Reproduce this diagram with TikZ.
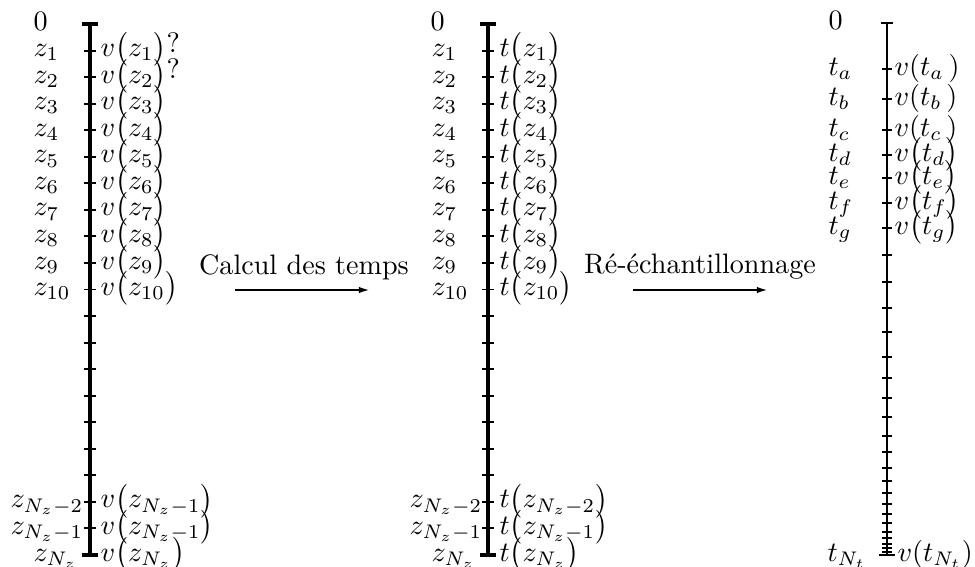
\documentclass[tikz,border=0pt]{standalone}
\usepackage{tikz}
\usetikzlibrary{arrows.meta}

\begin{document}
\begin{tikzpicture}[x=0.0125cm,y=-0.0125cm,
  axe/.style={line width=1.1pt},
  tck/.style={line width=0.7pt},
  lbl/.style={anchor=mid west,inner sep=0pt},
  flow/.style={-{Latex[length=1.4mm,width=0.8mm]},line width=0.7pt}
]
  \useasboundingbox (0,0) rectangle (975,567);
  % ---- profondeurs
  \draw[axe] (90,24) -- (90,555);
  \draw[axe] (82,24) -- (98,24);
  \draw[axe] (82,555) -- (98,555);
  \foreach \i in {1,...,19} { \draw[tck] (84,{24+26.55*\i}) -- (96,{24+26.55*\i}); }
  \node[lbl] (za0) at (33,24) {$0$};
  \foreach \i in {1,...,10} { \node[lbl] (za\i) at (33,{24+26.55*\i}) {$z_{\i}$}; }
  \node[lbl] (za18) at (10,{24+26.55*18}) {$z_{N_z-2}$};
  \node[lbl] (za19) at (10,{24+26.55*19}) {$z_{N_z-1}$};
  \node[lbl] (za20) at (33,555) {$z_{N_z}$};
  \node[lbl] (va1) at (100,{24+26.55}) {$v\bigl(z_{1}\bigr)$\raisebox{1.5pt}{?}};
  \node[lbl] (va2) at (100,{24+26.55*2}) {$v\bigl(z_{2}\bigr)$\raisebox{1.5pt}{?}};
  \foreach \i in {3,...,10} { \node[lbl] (va\i) at (100,{24+26.55*\i}) {$v\bigl(z_{\i}\bigr)$}; }
  \node[lbl] (va18) at (100,{24+26.55*18}) {$v\bigl(z_{N_z-1}\bigr)$};
  \node[lbl] (va19) at (100,{24+26.55*19}) {$v\bigl(z_{N_z-1}\bigr)$};
  \node[lbl] (va20) at (100,555) {$v\bigl(z_{N_z}\bigr)$};
  % ---- calcul des temps
  \node (calc) at (304,267) {Calcul des temps};
  \coordinate (ca) at (235,290);
  \coordinate (cb) at (370,290);
  \draw[flow] (ca) -- (cb);
  % ---- temps
  \draw[axe] (488,24) -- (488,555);
  \draw[axe] (480,24) -- (496,24);
  \draw[axe] (480,555) -- (496,555);
  \foreach \i in {1,...,19} { \draw[tck] (482,{24+26.55*\i}) -- (494,{24+26.55*\i}); }
  \node[lbl] (zb0) at (430,24) {$0$};
  \foreach \i in {1,...,10} { \node[lbl] (zb\i) at (431,{24+26.55*\i}) {$z_{\i}$}; }
  \node[lbl] (zb18) at (409,{24+26.55*18}) {$z_{N_z-2}$};
  \node[lbl] (zb19) at (409,{24+26.55*19}) {$z_{N_z-1}$};
  \node[lbl] (zb20) at (431,555) {$z_{N_z}$};
  \foreach \i in {1,...,10} { \node[lbl] (tb\i) at (499,{24+26.55*\i}) {$t\bigl(z_{\i}\bigr)$}; }
  \node[lbl] (tb18) at (499,{24+26.55*18}) {$t\bigl(z_{N_z-2}\bigr)$};
  \node[lbl] (tb19) at (499,{24+26.55*19}) {$t\bigl(z_{N_z-1}\bigr)$};
  \node[lbl] (tb20) at (499,555) {$t\bigl(z_{N_z}\bigr)$};
  % ---- re-echantillonnage
  \node (resamp) at (700,267) {Ré-échantillonnage};
  \coordinate (ra) at (633,290);
  \coordinate (rb) at (768,290);
  \draw[flow] (ra) -- (rb);
  % ---- temps reguliers
  \draw[line width=0.8pt] (887,23) -- (887,555);
  \draw[tck] (881,23) -- (893,23);
  \draw[line width=0.9pt] (879,555) -- (895,555);
  \foreach \y in {69,99,130,155,178,203,228,255,282,308,332,357,378,398,417,436,452,
                  468,481,493,504,514,523,532,538,544,548,552}
    { \draw[tck] (882,\y) -- (892,\y); }
  \node[lbl] (tc0) at (828,23) {$0$};
  \foreach \y/\s in {69/a,99/b,130/c,155/d,178/e,203/f,228/g}
    { \node[lbl] (tc\s) at (828,\y) {$t_{\s}$}; }
  \node[lbl] (tcN) at (827,555) {$t_{N_t}$};
  \foreach \y/\s in {69/a,99/b,130/c} { \node[lbl] (vc\s) at (894,\y) {$v(t_{\s}\,)$}; }
  \foreach \y/\s in {155/d,178/e,203/f,228/g} { \node[lbl] (vc\s) at (894,\y) {$v\bigl(t_{\s}\bigr)$}; }
  \node[lbl] (vcN) at (897,555) {$v(t_{N_t})$};
\end{tikzpicture}
\end{document}
